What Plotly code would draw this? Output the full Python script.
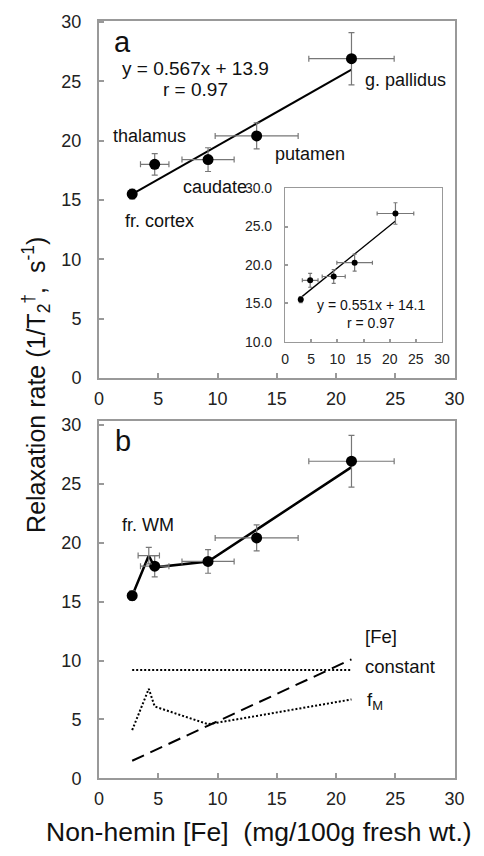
import plotly.graph_objects as go

# ---------------- data ----------------
regions = ["fr. cortex", "thalamus", "caudate", "putamen", "g. pallidus"]
fe = [2.8, 4.7, 9.2, 13.3, 21.3]
fe_err = [0.3, 1.2, 2.2, 3.5, 3.6]
r2 = [15.5, 18.0, 18.4, 20.4, 26.9]
r2_err = [0.4, 0.9, 1.0, 1.1, 2.2]

fit_a_x = [2.8, 21.3]
slope_a, icpt_a = 0.567, 13.9

inset_fe = [3.0, 4.8, 9.3, 13.3, 21.1]
inset_fe_err = [0.3, 1.5, 2.2, 3.4, 3.5]
inset_r2 = [15.5, 18.0, 18.5, 20.3, 26.7]
inset_r2_err = [0.4, 0.9, 0.9, 1.1, 1.4]
fit_in_x = [3.0, 21.1]
slope_in, icpt_in = 0.551, 14.1

wm_fe, wm_fe_err = [4.2], [0.9]
wm_r2, wm_r2_err = [18.9], [0.7]

model_x = [2.8, 4.2, 4.7, 9.2, 13.3, 21.3]
model_total = [15.5, 18.9, 17.9, 18.4, 21.1, 26.4]
model_fe = [1.5, 10.1]
model_fe_x = [2.8, 21.3]
model_const = [9.2, 9.2]
model_fm = [4.1, 7.6, 6.1, 4.6, 5.3, 6.7]

x_ticks = [0, 5, 10, 15, 20, 25, 30]
y_ticks = [0, 5, 10, 15, 20, 25, 30]
inset_y_ticks = [10, 15, 20, 25, 30]

FONT = "Liberation Sans, Arial, sans-serif"
ERR = "#777777"
AX = "#999999"

fig = go.Figure()

def errs(arr, w=3):
    return dict(type="data", array=arr, color=ERR, thickness=1.2, width=w)

# panel a
fig.add_trace(go.Scatter(x=fit_a_x, y=[slope_a * v + icpt_a for v in fit_a_x],
                         mode="lines", line=dict(color="black", width=2),
                         xaxis="x", yaxis="y", showlegend=False))
fig.add_trace(go.Scatter(x=fe, y=r2, mode="markers",
                         error_x=errs(fe_err), error_y=errs(r2_err),
                         marker=dict(color="black", size=11),
                         xaxis="x", yaxis="y", showlegend=False))

# inset
fig.add_trace(go.Scatter(x=fit_in_x, y=[slope_in * v + icpt_in for v in fit_in_x],
                         mode="lines", line=dict(color="black", width=1.3),
                         xaxis="x3", yaxis="y3", showlegend=False))
fig.add_trace(go.Scatter(x=inset_fe, y=inset_r2, mode="markers",
                         error_x=errs(inset_fe_err, 2), error_y=errs(inset_r2_err, 2),
                         marker=dict(color="black", size=6),
                         xaxis="x3", yaxis="y3", showlegend=False))

# panel b
fig.add_trace(go.Scatter(x=model_x, y=model_total, mode="lines",
                         line=dict(color="black", width=2.5),
                         xaxis="x2", yaxis="y2", showlegend=False))
fig.add_trace(go.Scatter(x=model_fe_x, y=model_fe, mode="lines",
                         line=dict(color="black", width=2, dash="13px,7px"),
                         xaxis="x2", yaxis="y2", showlegend=False))
fig.add_trace(go.Scatter(x=model_fe_x, y=model_const, mode="lines",
                         line=dict(color="black", width=2, dash="2px,2px"),
                         xaxis="x2", yaxis="y2", showlegend=False))
fig.add_trace(go.Scatter(x=model_x, y=model_fm, mode="lines",
                         line=dict(color="black", width=2, dash="2px,2px"),
                         xaxis="x2", yaxis="y2", showlegend=False))
fig.add_trace(go.Scatter(x=fe, y=r2, mode="markers",
                         error_x=errs(fe_err), error_y=errs(r2_err),
                         marker=dict(color="black", size=11),
                         xaxis="x2", yaxis="y2", showlegend=False))
fig.add_trace(go.Scatter(x=wm_fe, y=wm_r2, mode="markers",
                         error_x=errs(wm_fe_err), error_y=errs(wm_r2_err),
                         marker=dict(color="rgba(0,0,0,0)", size=10, symbol="circle-open",
                                     line=dict(color="#333", width=1.5)),
                         xaxis="x2", yaxis="y2", showlegend=False))

def axis(dom, rng, ticks, fmt=None, size=18, stand=10, anchor=None):
    d = dict(domain=dom, range=rng, tickvals=ticks, showgrid=False, zeroline=False,
             showline=True, linecolor=AX, linewidth=2, mirror=True,
             ticks="inside", ticklen=5, tickcolor=AX, tickwidth=1.5,
             tickfont=dict(family=FONT, size=size, color="#222"),
             ticklabelstandoff=stand)
    if fmt:
        d["tickformat"] = fmt
    if anchor:
        d["anchor"] = anchor
    return d

XD = [97 / 484, 464 / 484]
fig.update_layout(
    width=484, height=856, margin=dict(l=0, r=0, t=0, b=0),
    plot_bgcolor="white", paper_bgcolor="white",
    xaxis=axis(XD, [0, 30], x_ticks, stand=3, anchor="y"),
    yaxis=axis([1 - 378 / 856, 1 - 13 / 856], [0, 30.1], y_ticks, stand=12, anchor="x"),
    xaxis2=axis(XD, [0, 30], x_ticks, stand=3, anchor="y2"),
    yaxis2=axis([1 - 787 / 856, 1 - 422 / 856], [0, 30.3], y_ticks, stand=12, anchor="x2"),
    xaxis3=axis([289 / 484, 451 / 484], [0, 30], x_ticks, size=14, stand=4, anchor="y3"),
    yaxis3=axis([1 - 341 / 856, 1 - 184 / 856], [10, 30], inset_y_ticks, fmt=".1f",
                size=14, stand=9, anchor="x3"),
)
for ax in ["xaxis3", "yaxis3"]:
    fig.layout[ax].linewidth = 1.2
    fig.layout[ax].ticklen = 3

anns = []
def ann(text, x, y, xr, yr, size=18, xanchor="left", **kw):
    anns.append(dict(text=text, x=x, y=y, xref=xr, yref=yr, showarrow=False,
                     xanchor=xanchor, yanchor="middle",
                     font=dict(family=FONT, size=size, color="#111"), **kw))

# panel a labels
ann("a", 2.0, 28.3, "x", "y", size=29, xanchor="center")
ann("y = 0.567x + 13.9", 8.1, 26.05, "x", "y", size=19, xanchor="center")
ann("r = 0.97", 8.1, 24.3, "x", "y", size=19, xanchor="center")
label_pos = {"fr. cortex": (2.0, 13.2), "thalamus": (1.0, 20.4), "caudate": (6.9, 16.1),
             "putamen": (14.7, 18.9), "g. pallidus": (22.3, 25.1)}
for name in regions:
    lx, ly = label_pos[name]
    ann(name, lx, ly, "x", "y", size=18)

# inset labels
ann("y = 0.551x + 14.1", 16.5, 14.8, "x3", "y3", size=14, xanchor="center")
ann("r = 0.97", 16.5, 12.4, "x3", "y3", size=14, xanchor="center")

# panel b labels
ann("b", 2.0, 28.6, "x2", "y2", size=29, xanchor="center")
ann("fr. WM", 4.1, 21.5, "x2", "y2", size=18, xanchor="center")
ann("[Fe]", 22.3, 12.0, "x2", "y2", size=18.5)
ann("constant", 22.3, 9.5, "x2", "y2", size=18.5)
ann("f<sub>M</sub>", 22.4, 6.6, "x2", "y2", size=18.5)

# axis titles
ann("Non-hemin [Fe]  (mg/100g fresh wt.)", 262 / 484, 1 - 842 / 856, "paper", "paper",
    size=26.5, xanchor="center")
ann("Relaxation rate (1/T<sub>2</sub><sup>†</sup>,  s<sup>-1</sup>)", 32 / 484, 1 - 385 / 856,
    "paper", "paper", size=25, xanchor="center", textangle=-90)

fig.update_layout(annotations=anns)
fig.write_html("out.html", config={"displayModeBar": False},
               post_script="document.body.style.margin='0';")
